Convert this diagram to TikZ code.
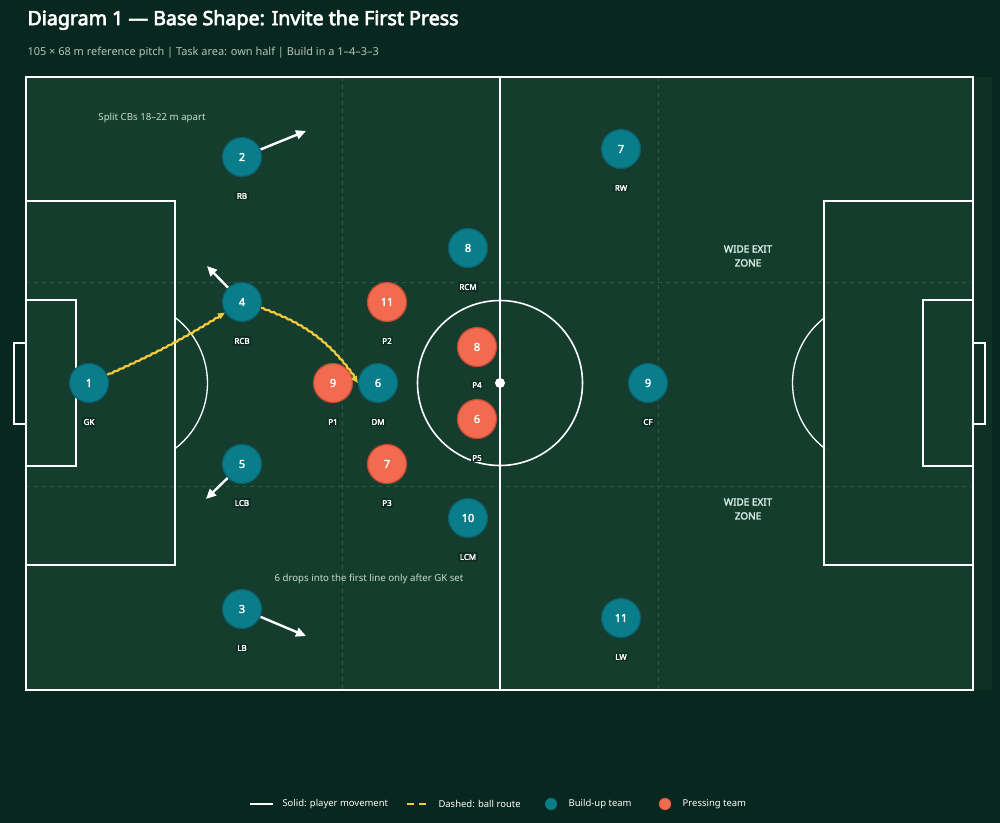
\documentclass[tikz,border=0pt]{standalone}
\usepackage{fontspec}
\setmainfont{Noto Sans}[BoldFont={Noto Sans}, BoldFeatures={FakeBold=2.4}]
\newfontfamily\headfont{Noto Sans}[FakeBold=3.4]
\usepackage{xcolor}
\usepackage{tikz}
\usetikzlibrary{arrows.meta,decorations.pathmorphing}

\definecolor{bgdark}{HTML}{08271E}
\definecolor{grass}{HTML}{143D2E}
\definecolor{grassedge}{HTML}{0E3125}
\definecolor{thirdline}{HTML}{2B5A49}
\definecolor{ownfill}{HTML}{0A7D8B}
\definecolor{ownrim}{HTML}{0A5F6B}
\definecolor{oppfill}{HTML}{F26B50}
\definecolor{opprim}{HTML}{BF4A33}
\definecolor{ballcol}{HTML}{F5C93C}
\definecolor{tagbg}{HTML}{0F2E24}
\definecolor{subgrey}{HTML}{B4C4BC}
\definecolor{notecol}{HTML}{C6DCD2}
\definecolor{zonecol}{HTML}{D2ECE3}

\begin{document}
\begin{tikzpicture}[x=1bp, y=-1bp,
    own/.style={circle, draw=ownrim, fill=ownfill, line width=1.2bp, minimum size=39bp, inner sep=0pt, text=white, font=\fontsize{11}{12}\selectfont\bfseries},
    opp/.style={circle, draw=opprim, fill=oppfill, line width=1.2bp, minimum size=39bp, inner sep=0pt, text=white, font=\fontsize{11}{12}\selectfont\bfseries},
    tag/.style={fill=tagbg, text=white, inner sep=1.6bp, font=\fontsize{8}{8}\selectfont\bfseries},
    pline/.style={draw=white, line width=1.6bp},
    third/.style={draw=thirdline, line width=0.8bp, dash pattern=on 4bp off 4bp},
    move/.style={-{Triangle[length=10bp, width=9bp]}, white, line width=2.4bp},
    ball/.style={-{Triangle[length=7bp, width=6bp]}, ballcol, line width=2.2bp, decorate,
        decoration={snake, amplitude=0.5bp, segment length=6bp, post length=6bp}},
    note/.style={text=notecol, font=\fontsize{9.7}{11}\selectfont},
    zone/.style={text=zonecol, align=center, font=\fontsize{10}{14}\selectfont\bfseries}
]

% background and pitch
\fill[bgdark] (0,0) rectangle (1000,823);
\useasboundingbox (0,0) rectangle (1000,823);
\fill[grassedge] (26,77) rectangle (992,690);
\fill[grass] (26,77) rectangle (973,690);

% thirds
\draw[third] (342,77) -- (342,690);
\draw[third] (658,77) -- (658,690);
\draw[third] (26,282) -- (973,282);
\draw[third] (26,486) -- (973,486);

% pitch markings
\draw[pline] (26,77) rectangle (973,690);
\draw[pline] (500,77) -- (500,690);
\draw[pline] (500,383) circle[radius=82.5];
\fill[white] (500,383) circle[radius=5];
\draw[pline] (26,201) rectangle (175,565);
\draw[pline] (26,300) rectangle (76,466);
\draw[pline] (26,343) -- (14,343) -- (14,424) -- (26,424);
\draw[draw=white, line width=1.3bp] (175,317.4) arc[start angle=-52.7, end angle=52.7, radius=82.5];
\draw[pline] (824,201) rectangle (973,565);
\draw[pline] (923,300) rectangle (973,466);
\draw[pline] (973,343) -- (985,343) -- (985,424) -- (973,424);
\draw[draw=white, line width=1.3bp] (825,448.6) arc[start angle=127.3, end angle=232.7, radius=82.5];

% title
\node[anchor=west, text=white, font=\headfont\fontsize{19.7}{22}\selectfont] (title) at (24,20) {Diagram 1 — Base Shape: Invite the First Press};
\node[anchor=west, text=subgrey, font=\fontsize{11}{13}\selectfont] (subtitle) at (24,53) {105 × 68 m reference pitch | Task area: own half | Build in a 1–4–3–3};

% notes
\node[note] (splitnote) at (152,118) {Split CBs 18–22 m apart};
\node[note] (dropnote) at (369,579) {6 drops into the first line only after GK set};
\node[zone] (zonetop) at (748,256) {WIDE EXIT\\ZONE};
\node[zone] (zonebot) at (748,509) {WIDE EXIT\\ZONE};

% build-up team
\node[own] (gk) at (89,383) {1};
\node[tag] at (89,422) {GK};
\node[own] (rb) at (242,157) {2};
\node[tag] at (242,196) {RB};
\node[own] (rcb) at (242,302) {4};
\node[tag] at (242,341) {RCB};
\node[own] (lcb) at (242,464) {5};
\node[tag] at (242,503) {LCB};
\node[own] (lb) at (242,609) {3};
\node[tag] at (242,648) {LB};
\node[own] (dm) at (378,383) {6};
\node[tag] at (378,422) {DM};
\node[own] (rcm) at (468,248) {8};
\node[tag] at (468,287) {RCM};
\node[own] (lcm) at (468,518) {10};
\node[tag] at (468,557) {LCM};
\node[own] (rw) at (621,149) {7};
\node[tag] at (621,188) {RW};
\node[own] (cf) at (648,383) {9};
\node[tag] at (648,422) {CF};
\node[own] (lw) at (621,618) {11};
\node[tag] at (621,657) {LW};

% pressing team
\node[opp] (pone) at (333,383) {9};
\node[tag] at (333,422) {P1};
\node[opp] (ptwo) at (387,302) {11};
\node[tag] at (387,341) {P2};
\node[opp] (pthree) at (387,464) {7};
\node[tag] at (387,503) {P3};
\node[opp] (pfour) at (477,347) {8};
\node[tag] at (477,385) {P4};
\node[opp] (pfive) at (477,419) {6};
\node[tag] at (477,458) {P5};

% player movement
\coordinate (rbgo) at (306,131);
\coordinate (rcbgo) at (207,266);
\coordinate (lcbgo) at (206,499);
\coordinate (lbgo) at (306,636);
\draw[move] (rb) -- (rbgo);
\draw[move] (rcb) -- (rcbgo);
\draw[move] (lcb) -- (lcbgo);
\draw[move] (lb) -- (lbgo);

% ball route
\draw[ball] (gk) to[bend right=4] (rcb);
\draw[ball] (rcb) to[bend left=18] (dm.west);

% legend
\coordinate (lgone) at (250,804);
\coordinate (lgtwo) at (273,804);
\draw[white, line width=2.4bp] (lgone) -- (lgtwo) node[right=5bp, text=white, font=\fontsize{9.5}{11}\selectfont] {Solid: player movement};
\coordinate (lgthree) at (407,804);
\coordinate (lgfour) at (428,804);
\draw[ballcol, line width=2.4bp, dash pattern=on 7bp off 5bp] (lgthree) -- (lgfour) node[right=6bp, text=white, font=\fontsize{9.5}{11}\selectfont] {Dashed: ball route};
\node[circle, fill=ownfill, draw=ownrim, minimum size=12bp, inner sep=0pt, label={[text=white, font=\fontsize{9.5}{11}\selectfont, label distance=8bp]right:Build-up team}] (lgown) at (551,804) {};
\node[circle, fill=oppfill, draw=opprim, minimum size=12bp, inner sep=0pt, label={[text=white, font=\fontsize{9.5}{11}\selectfont, label distance=8bp]right:Pressing team}] (lgopp) at (665,804) {};

\end{tikzpicture}
\end{document}
